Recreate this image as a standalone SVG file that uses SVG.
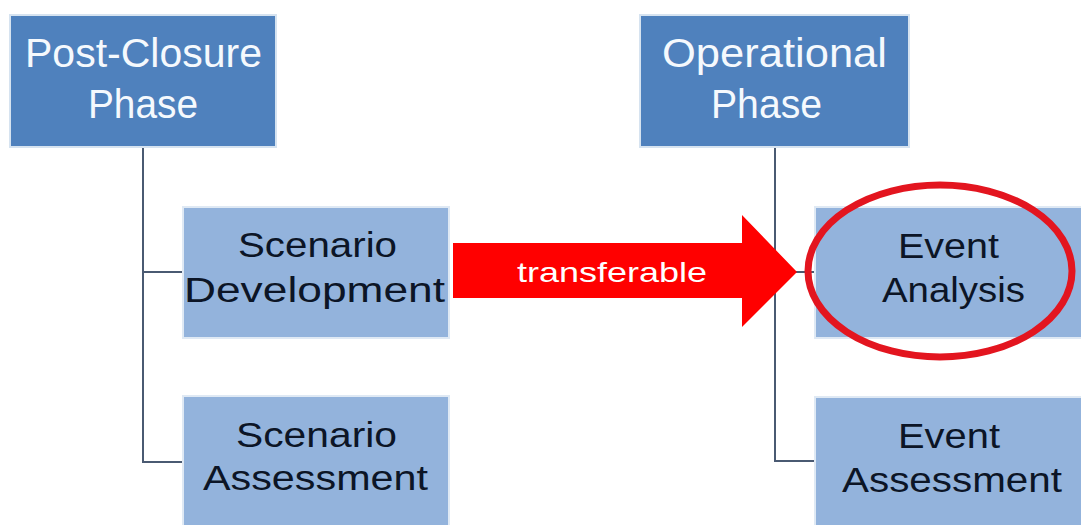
<svg xmlns="http://www.w3.org/2000/svg" width="1081" height="525" viewBox="0 0 1081 525">
<style>
.main{fill:#4f81bd;stroke:#d6e3f0;stroke-width:2}
.sub{fill:#93b3dc;stroke:#dfe9f4;stroke-width:2}
.tw{font-family:"Liberation Sans",Arial,sans-serif;font-size:41px;fill:#f5f9fd}
.td{font-family:"Liberation Sans",Arial,sans-serif;font-size:35px;fill:#0c1526}
.conn{fill:none;stroke:#4a5a72;stroke-width:2}
.lbl{font-family:"Liberation Sans",Arial,sans-serif;font-size:28px;fill:#ffffff}
</style>
<rect width="1081" height="525" fill="#ffffff"/>
<g id="connectors">
<path class="conn" d="M143,148 V462 H184 M143,272 H184"/>
<path class="conn" d="M775,148 V461 H816 M775,272 H816"/>
</g>
<g id="post-closure">
<rect class="main" x="10" y="15" width="266" height="132"/>
<text class="tw" x="25" y="67" textLength="237" lengthAdjust="spacingAndGlyphs">Post-Closure</text>
<text class="tw" x="88" y="118" textLength="110" lengthAdjust="spacingAndGlyphs">Phase</text>
</g>
<g id="operational">
<rect class="main" x="640" y="15" width="269" height="132"/>
<text class="tw" x="662" y="67" textLength="225" lengthAdjust="spacingAndGlyphs">Operational</text>
<text class="tw" x="711" y="118" textLength="111" lengthAdjust="spacingAndGlyphs">Phase</text>
</g>
<g id="scenario-development">
<rect class="sub" x="183" y="207" width="266" height="131"/>
<text class="td" x="238" y="257" textLength="159" lengthAdjust="spacingAndGlyphs">Scenario</text>
<text class="td" x="184" y="302" textLength="261" lengthAdjust="spacingAndGlyphs">Development</text>
</g>
<g id="scenario-assessment">
<rect class="sub" x="183" y="396" width="266" height="140"/>
<text class="td" x="236" y="447" textLength="161" lengthAdjust="spacingAndGlyphs">Scenario</text>
<text class="td" x="203" y="490" textLength="225" lengthAdjust="spacingAndGlyphs">Assessment</text>
</g>
<g id="event-analysis">
<rect class="sub" x="815" y="207" width="280" height="131"/>
<text class="td" x="898" y="258" textLength="101" lengthAdjust="spacingAndGlyphs">Event</text>
<text class="td" x="882" y="302" textLength="143" lengthAdjust="spacingAndGlyphs">Analysis</text>
</g>
<g id="event-assessment">
<rect class="sub" x="815" y="397" width="280" height="140"/>
<text class="td" x="898" y="448" textLength="102" lengthAdjust="spacingAndGlyphs">Event</text>
<text class="td" x="842" y="492" textLength="220" lengthAdjust="spacingAndGlyphs">Assessment</text>
</g>
<g id="transfer-arrow">
<polygon points="453,243 742,243 742,215 797,272 742,327 742,298 453,298" fill="#ff0000"/>
<text class="lbl" x="517" y="282" textLength="190" lengthAdjust="spacingAndGlyphs">transferable</text>
</g>
<g id="highlight">
<ellipse cx="940" cy="271" rx="132" ry="86" fill="none" stroke="#e3151f" stroke-width="7"/>
</g>
</svg>
